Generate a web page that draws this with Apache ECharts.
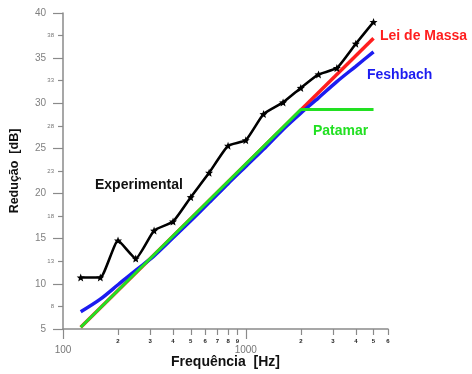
<!DOCTYPE html>
<html>
<head>
<meta charset="utf-8">
<script src="https://cdn.jsdelivr.net/npm/echarts@6/dist/echarts.min.js"></script>
<style>
  html, body { margin: 0; padding: 0; background: #fff; }
  #chart { width: 472px; height: 374px; }
</style>
</head>
<body>
<div id="chart"></div>
<script>
// Third-octave band centre frequencies (Hz)
const freqs = [125, 160, 200, 250, 315, 400, 500, 630, 800, 1000, 1250, 1600, 2000, 2500, 3150, 4000, 5000];
// Measured sound reduction index (dB)
const experimental = [10.7, 10.7, 14.8, 12.8, 15.9, 16.9, 19.6, 22.3, 25.3, 25.9, 28.8, 30.1, 31.7, 33.2, 33.9, 36.6, 39.0];
// Feshbach prediction (dB)
const feshbach = [6.9, 8.3, 9.9, 11.5, 13.1, 15.1, 17.0, 19.0, 21.1, 23.0, 24.9, 27.1, 28.9, 30.6, 32.4, 34.1, 35.7];
// Mass law: straight line, end points
const massFreqs = [125, 5000];
const massLaw = [5.2, 37.2];
// Plateau model: mass law up to the critical frequency, then flat
const plateauFreqs = [125, 2000, 5000];
const plateau = [5.2, 29.3, 29.3];

// Axis ticks
const xMajorTicks = [100, 1000];
const xMinorTicks = [200, 300, 400, 500, 600, 700, 800, 900, 2000, 3000, 4000, 5000, 6000];
const yMinorTicks = [7.5, 12.5, 17.5, 22.5, 27.5, 32.5, 37.5];

const pairs = (xs, ys) => xs.map((x, i) => [x, ys[i]]);

const star = 'path://M0,-10 L2.6,-3.4 9.5,-3.1 4.2,1.4 5.9,8.1 0,4.3 -5.9,8.1 -4.2,1.4 -9.5,-3.1 -2.6,-3.4 Z';
const FONT = 'Liberation Sans, Arial, sans-serif';
const axisGray = '#8a8a8a';

const chart = echarts.init(document.getElementById('chart'), null, { renderer: 'canvas' });

chart.setOption({
  animation: false,
  backgroundColor: '#ffffff',
  grid: { left: 63, right: 84, top: 13, bottom: 45, containLabel: false },
  xAxis: [
    {
      type: 'log', logBase: 10, min: 100, max: 6000,
      name: 'Frequência  [Hz]', nameLocation: 'middle', nameGap: 26,
      nameTextStyle: { fontFamily: FONT, fontWeight: 'bold', fontSize: 14, color: '#111' },
      axisLine: { show: true, lineStyle: { color: axisGray, width: 1.5 } },
      axisTick: { show: true, inside: false, length: 6, customValues: xMinorTicks, lineStyle: { color: axisGray, width: 1.2 } },
      axisLabel: {
        customValues: xMinorTicks, margin: 9, fontFamily: FONT, fontSize: 6, fontWeight: 'bold', color: '#222',
        formatter: v => String(Math.round(v / Math.pow(10, Math.floor(Math.log10(v) + 1e-9))))
      },
      splitLine: { show: false }, minorTick: { show: false }
    },
    {
      type: 'log', logBase: 10, min: 100, max: 6000, position: 'bottom',
      axisLine: { show: false },
      axisTick: { show: true, inside: false, length: 10, customValues: xMajorTicks, lineStyle: { color: axisGray, width: 1.2 } },
      axisLabel: { customValues: xMajorTicks, margin: 16, fontFamily: FONT, fontSize: 10, color: '#777', formatter: v => String(Math.round(v)) },
      splitLine: { show: false }
    }
  ],
  yAxis: [
    {
      type: 'value', min: 5, max: 40, interval: 5,
      name: 'Redução  [dB]', nameLocation: 'middle', nameGap: 42, nameRotate: 90,
      nameTextStyle: { fontFamily: FONT, fontWeight: 'bold', fontSize: 12.5, color: '#111' },
      axisLine: { show: true, lineStyle: { color: axisGray, width: 1.5 } },
      axisTick: { show: true, inside: false, length: 10, lineStyle: { color: axisGray, width: 1.2 } },
      axisLabel: { margin: 17, fontFamily: FONT, fontSize: 10, color: '#808080' },
      splitLine: { show: false }
    },
    {
      type: 'value', min: 5, max: 40, position: 'left',
      axisLine: { show: false },
      axisTick: { show: true, inside: false, length: 5, customValues: yMinorTicks, lineStyle: { color: axisGray, width: 1.2 } },
      axisLabel: { customValues: yMinorTicks, margin: 9, fontFamily: FONT, fontSize: 6, color: '#777', formatter: v => String(Math.round(v)) },
      splitLine: { show: false }
    }
  ],
  series: [
    {
      name: 'Lei de Massa', type: 'line', z: 1, data: pairs(massFreqs, massLaw),
      symbol: 'none', lineStyle: { color: '#ff1e1e', width: 3.5 }
    },
    {
      name: 'Feshbach', type: 'line', z: 2, data: pairs(freqs, feshbach), smooth: 0.3,
      symbol: 'none', lineStyle: { color: '#1c1cf0', width: 3.5 }
    },
    {
      name: 'Patamar', type: 'line', z: 3, data: pairs(plateauFreqs, plateau),
      symbol: 'none', lineStyle: { color: '#22e022', width: 3 }
    },
    {
      name: 'Experimental', type: 'line', z: 4, data: pairs(freqs, experimental), smooth: 0.15,
      symbol: star, symbolSize: 8, showAllSymbol: true,
      itemStyle: { color: '#000' },
      lineStyle: { color: '#000', width: 2.6 }
    }
  ],
  graphic: [
    { type: 'text', left: 380, top: 29, style: { text: 'Lei de Massa', fill: '#ff1e1e', font: 'bold 14px ' + FONT } },
    { type: 'text', left: 367, top: 68, style: { text: 'Feshbach', fill: '#1c1cf0', font: 'bold 14px ' + FONT } },
    { type: 'text', left: 313, top: 124, style: { text: 'Patamar', fill: '#22e022', font: 'bold 14px ' + FONT } },
    { type: 'text', left: 95, top: 178, style: { text: 'Experimental', fill: '#111', font: 'bold 14px ' + FONT } }
  ]
});
</script>
</body>
</html>
